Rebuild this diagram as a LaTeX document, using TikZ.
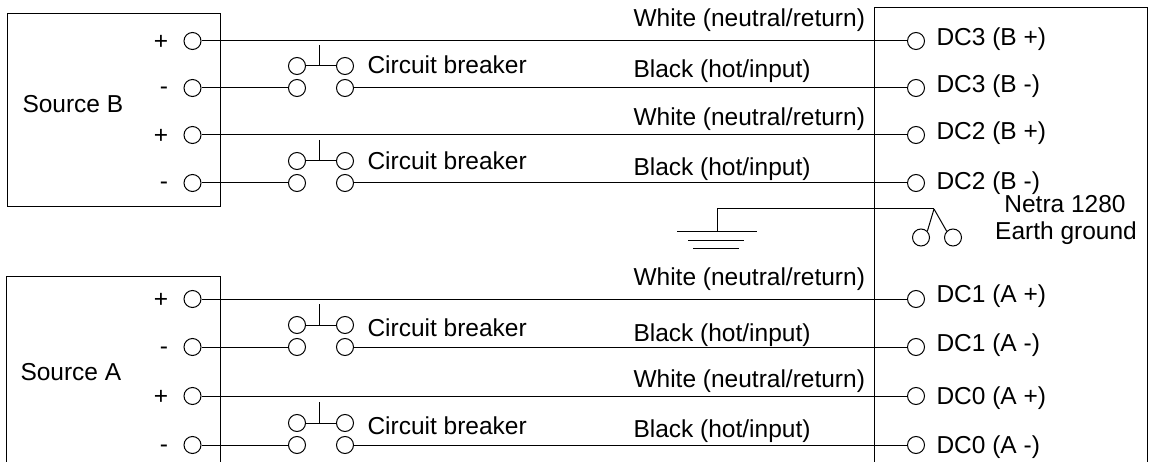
\documentclass[tikz,border=0pt]{standalone}
\usepackage{fontspec}
\setmainfont{Liberation Sans}
\begin{document}
\begin{tikzpicture}[x=1pt,y=-1pt,line width=1pt,
  term/.style={circle,draw,minimum size=17pt,inner sep=0pt},
  lbl/.style={anchor=base west,inner sep=0pt,font=\fontsize{24.5}{29}\selectfont},
  clbl/.style={anchor=base,inner sep=0pt,font=\fontsize{24.5}{29}\selectfont}]
\useasboundingbox (0,0) rectangle (1153,462);
% boxes
\draw (7,14) rectangle (220,207);
\draw (6,462) -- (6,276) -- (220,276) -- (220,462);
\draw (874,462) -- (874,8) -- (1147,8) -- (1147,462);
\node[lbl] (srcB) at (22,113) {Source B};
\node[lbl] (srcA) at (20,380) {Source A};
% source terminals
\foreach \n/\r/\s in {bp1/41/+, bm1/88/-, bp2/135/+, bm2/183/-, ap1/299/+, am1/347/-, ap2/396/+, am2/445/-} {
  \node[term] (s\n) at (192.5,\r) {};
}
\foreach \n/\r in {bp1/41, bp2/135, ap1/299, ap2/396} {
  \node[clbl] (l\n) at (161,\r+8.6) {+};
}
\foreach \n/\r in {bm1/88, bm2/183, am1/347, am2/445} {
  \node[clbl] (l\n) at (164,\r+7) {-};
}
% DC terminals
\foreach \n/\r in {bp1/41, bm1/88, bp2/135, bm2/183, ap1/299, am1/347, ap2/396, am2/445} {
  \node[term] (d\n) at (916,\r) {};
}
\node[lbl] (tbp1) at (936,46) {DC3 (B +)};
\node[lbl] (tbm1) at (936,93) {DC3 (B -)};
\node[lbl] (tbp2) at (936,140) {DC2 (B +)};
\node[lbl] (tbm2) at (936,190) {DC2 (B -)};
\node[lbl] (tap1) at (936,302) {DC1 (A +)};
\node[lbl] (tam1) at (936,351) {DC1 (A -)};
\node[lbl] (tap2) at (936,404) {DC0 (A +)};
\node[lbl] (tam2) at (936,453) {DC0 (A -)};
% breakers
\foreach \n/\r/\b in {bm1/88/74, bm2/183/170, am1/347/336, am2/445/434} {
  \node[term] (\n-ll) at (297,\r) {};
  \node[term] (\n-lr) at (345,\r) {};
  \node[term] (\n-ul) at (297,\r-22) {};
  \node[term] (\n-ur) at (345,\r-22) {};
  \draw (\n-ul) -- (\n-ur);
  \coordinate (\n-st) at (319,\r-43);
  \draw (\n-st) -- (\n-st |- \n-ul);
  \node[lbl] (\n-cb) at (367,\b) {Circuit breaker};
  \draw (s\n) -- (\n-ll);
  \draw (\n-lr) -- (d\n);
}
% plus wires
\foreach \n in {bp1, bp2, ap1, ap2} {
  \draw (s\n) -- (d\n);
}
% wire labels
\node[lbl] (wbp1) at (633,27) {White (neutral/return)};
\node[lbl] (wbm1) at (633,78) {Black (hot/input)};
\node[lbl] (wbp2) at (633,126) {White (neutral/return)};
\node[lbl] (wbm2) at (633,176) {Black (hot/input)};
\node[lbl] (wap1) at (633,285) {White (neutral/return)};
\node[lbl] (wam1) at (633,341) {Black (hot/input)};
\node[lbl] (wap2) at (633,387) {White (neutral/return)};
\node[lbl] (wam2) at (633,437) {Black (hot/input)};
% earth ground
\coordinate (gnd) at (717,209);
\coordinate (fork) at (934,209);
\coordinate (gbot) at (717,232);
\node[term] (eg1) at (921,237.5) {};
\node[term] (eg2) at (953,237.5) {};
\draw (gnd) -- (fork);
\draw (gnd) -- (gbot);
\draw (fork) -- (eg1.north east);
\draw (fork) -- (eg2.north west);
\coordinate (g1l) at (677,232); \coordinate (g1r) at (757,232);
\coordinate (g2l) at (688,241); \coordinate (g2r) at (744,241);
\coordinate (g3l) at (693,249); \coordinate (g3r) at (739,249);
\draw (g1l) -- (g1r);
\draw (g2l) -- (g2r);
\draw (g3l) -- (g3r);
\node[clbl] (netra) at (1065,213) {Netra 1280};
\node[clbl] (earth) at (1066,240) {Earth ground};
\end{tikzpicture}
\end{document}
